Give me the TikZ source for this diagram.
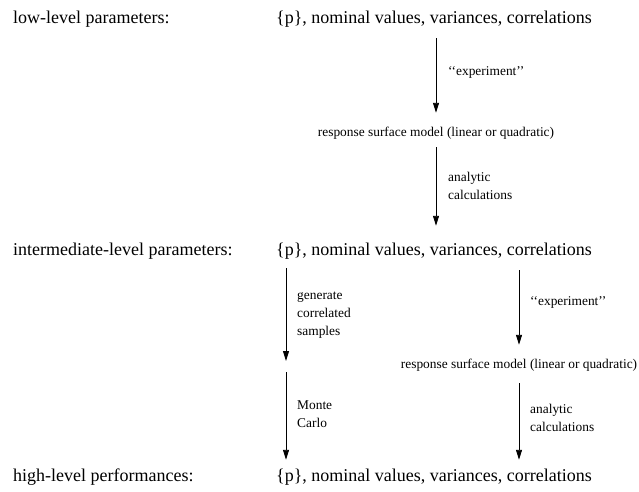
\documentclass[tikz,border=0pt]{standalone}
\usepackage{fontspec}
\setmainfont{Liberation Serif}
\usetikzlibrary{arrows.meta}
\begin{document}
\begin{tikzpicture}[x=1pt,y=-1pt,
  big/.style={font=\fontsize{18}{20}\selectfont, inner sep=0pt, text height=13pt, text depth=4pt},
  mid/.style={font=\fontsize{13.4}{18}\selectfont, inner sep=0pt, text height=10pt, text depth=3pt},
  lbl/.style={font=\fontsize{13.4}{18}\selectfont, inner sep=0pt, anchor=west, align=left},
  arr/.style={line width=0.9pt, -{Triangle[length=10pt,width=6pt]}}]
\useasboundingbox (0,0) rectangle (639,491);
% rows
\node[big, anchor=base west] (l1) at (13,23) {low-level parameters:};
\node[big, anchor=base west] (p1) at (276,23) {\{p\}, nominal values, variances, correlations};
\node[big, anchor=base west] (l2) at (13,255) {intermediate-level parameters:};
\node[big, anchor=base west] (p2) at (276,255) {\{p\}, nominal values, variances, correlations};
\node[big, anchor=base west] (l3) at (13,481) {high-level performances:};
\node[big, anchor=base west] (p3) at (276,481) {\{p\}, nominal values, variances, correlations};
% response surface models
\node[mid, anchor=base] (r1) at (436,136) {response surface model (linear or quadratic)};
\node[mid, anchor=base] (r2) at (519,368) {response surface model (linear or quadratic)};
\coordinate (mc) at (286,366);
% arrows
\draw[arr, shorten <=11pt, shorten >=13pt] (p1.south -| r1) -- (r1.north);
\draw[arr, shorten <=8pt, shorten >=16pt] (r1.south) -- (p2.north -| r1);
\draw[arr, shorten <=9pt, shorten >=5pt] (p2.south -| mc) -- (mc);
\draw[arr, shorten <=6pt, shorten >=8pt] (mc) -- (p3.north -| mc);
\draw[arr, shorten <=11pt, shorten >=13pt] (p2.south -| r2) -- (r2.north);
\draw[arr, shorten <=12pt, shorten >=8pt] (r2.south) -- (p3.north -| r2);
% arrow labels
\node[lbl] (e1) at (448,72) {`{}`experiment'{}'};
\node[lbl] (a1) at (448,186) {analytic\\calculations};
\node[lbl] (g) at (297,315) {generate\\correlated\\samples};
\node[lbl] (m) at (297,414) {Monte\\Carlo};
\node[lbl] (e2) at (530,302) {`{}`experiment'{}'};
\node[lbl] (a2) at (530,418) {analytic\\calculations};
\end{tikzpicture}
\end{document}
